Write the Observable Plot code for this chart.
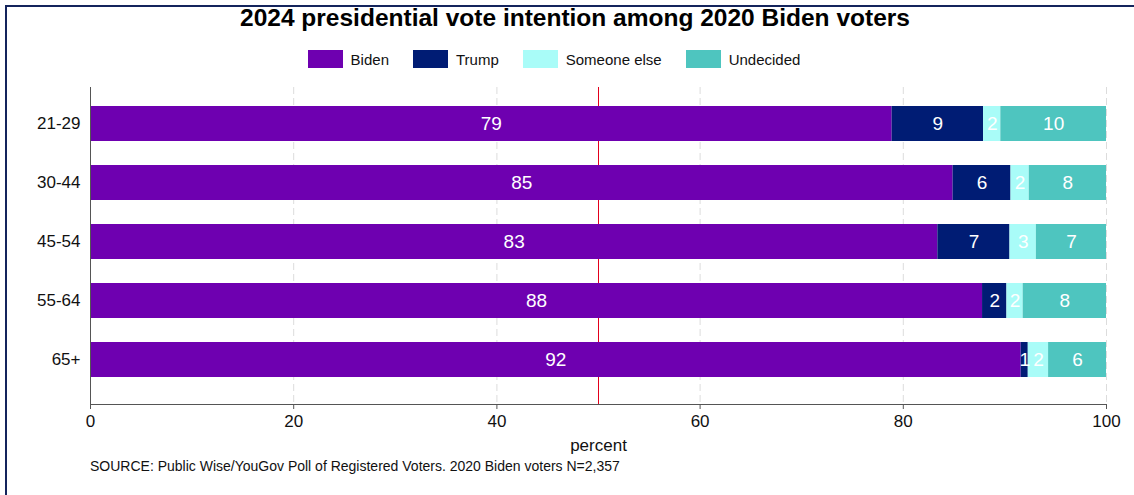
<!DOCTYPE html>
<html>
<head>
<meta charset="utf-8">
<script src="https://cdn.jsdelivr.net/npm/d3@7"></script>
<script src="https://cdn.jsdelivr.net/npm/@observablehq/plot@0.6"></script>
<style>
  html, body { margin: 0; padding: 0; background: #fff; }
  body { width: 1134px; height: 495px; overflow: hidden; font-family: "Liberation Sans", Arial, Helvetica, sans-serif; }
  #wrap { position: relative; width: 1134px; height: 495px; }
  #frame { position: absolute; left: 5px; top: 5px; right: -10px; bottom: -10px; border-left: 2px solid #14245c; border-top: 2px solid #14245c; }
  #title { position: absolute; left: 0; width: 1150px; top: 4px; text-align: center; font-weight: bold; font-size: 24.5px; color: #000; white-space: nowrap; }
  #legend { position: absolute; left: 0; width: 1108px; top: 50px; display: flex; justify-content: center; gap: 24px; font-size: 15px; color: #111; }
  .item { display: flex; align-items: center; gap: 8px; height: 18px; }
  .sw { width: 35px; height: 18px; display: inline-block; }
  #chart { position: absolute; left: 0; top: 80px; }
  #source { position: absolute; left: 90px; top: 458px; font-size: 14px; color: #111; white-space: nowrap; }
</style>
</head>
<body>
<div id="wrap">
  <div id="frame"></div>
  <div id="title"></div>
  <div id="legend"></div>
  <div id="chart"></div>
  <div id="source"></div>
</div>
<script>
// ---- data ----
const ages = ["21-29", "30-44", "45-54", "55-64", "65+"];
const choices = ["Biden", "Trump", "Someone else", "Undecided"];
const biden = [78.9, 84.9, 83.4, 87.8, 91.6];
const trump = [9.0, 5.7, 7.1, 2.4, 0.7];
const someoneElse = [1.7, 1.8, 2.6, 1.6, 2.0];
const undecided = [10.4, 7.6, 6.9, 8.2, 5.7];
const colors = ["#6e00b0", "#001c74", "#a9fcf8", "#4ec5bf"];
const xTicks = [0, 20, 40, 60, 80, 100];
const gridTicks = [20, 40, 60, 80, 100];
const refLine = [50];
const titleText = "2024 presidential vote intention among 2020 Biden voters";
const sourceText = "SOURCE: Public Wise/YouGov Poll of Registered Voters. 2020 Biden voters N=2,357";
const xLabel = "percent";

const series = [biden, trump, someoneElse, undecided];
const data = [];
ages.forEach((age, i) => {
  choices.forEach((c, j) => {
    data.push({age, choice: c, value: series[j][i]});
  });
});

document.getElementById("title").textContent = titleText;
document.getElementById("source").textContent = sourceText;
const legend = document.getElementById("legend");
choices.forEach((c, j) => {
  const it = document.createElement("div");
  it.className = "item";
  const sw = document.createElement("span");
  sw.className = "sw";
  sw.style.background = colors[j];
  const t = document.createElement("span");
  t.textContent = c;
  it.appendChild(sw);
  it.appendChild(t);
  legend.appendChild(it);
});

const chart = Plot.plot({
  width: 1134,
  height: 380,
  marginLeft: 90,
  marginRight: 28,
  marginTop: 7,
  marginBottom: 56,
  style: {fontFamily: "'Liberation Sans', Arial, Helvetica, sans-serif", color: "#111", background: "transparent"},
  x: {domain: [0, 100]},
  y: {domain: ages, paddingInner: 0.4, paddingOuter: 0.2, insetTop: 7, insetBottom: 15},
  color: {domain: choices, range: colors},
  marks: [
    Plot.gridX(gridTicks, {stroke: "#dcdcdc", strokeOpacity: 1, strokeDasharray: "7,4"}),
    Plot.ruleX(refLine, {stroke: "#e3001b", strokeWidth: 1}),
    Plot.barX(data, Plot.stackX({x: "value", y: "age", fill: "choice", order: choices})),
    Plot.text(data, Plot.stackX({x: "value", y: "age", z: "choice", order: choices,
      text: d => d3.format(".0f")(d.value), fill: "white", fontSize: 19})),
    Plot.frame({anchor: "left", stroke: "#555"}),
    Plot.frame({anchor: "bottom", stroke: "#555"}),
    Plot.axisY({tickSize: 0, tickPadding: 10, fontSize: 17, label: null}),
    Plot.axisX(xTicks, {tickSize: 5, tickPadding: 5, fontSize: 17, stroke: "#555",
      label: xLabel, labelAnchor: "center", labelArrow: "none", labelOffset: 46})
  ]
});
document.getElementById("chart").appendChild(chart);
</script>
</body>
</html>
